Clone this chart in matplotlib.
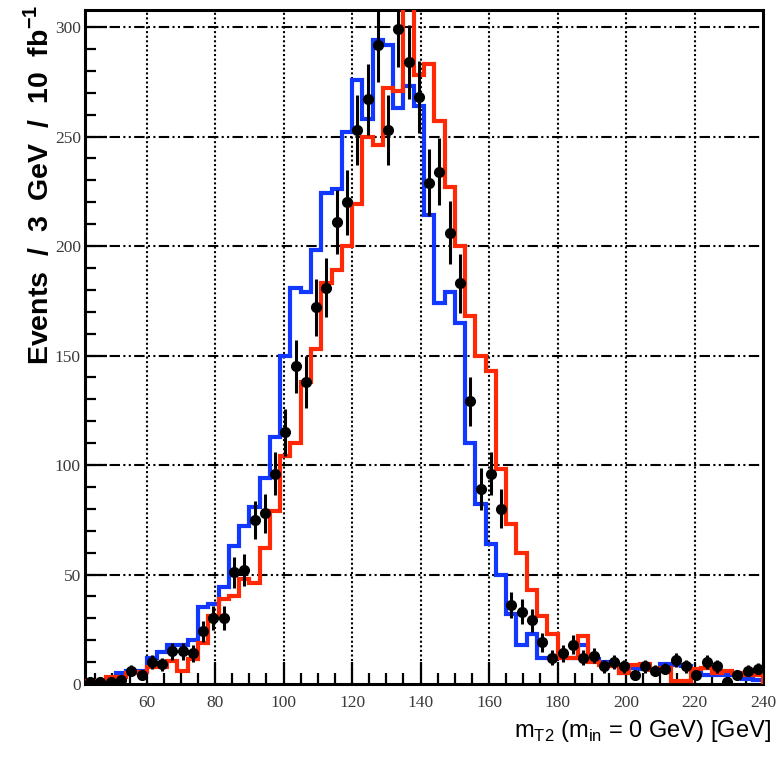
import numpy as np
import matplotlib
matplotlib.use("Agg")
import matplotlib.pyplot as plt
from matplotlib.ticker import MultipleLocator

plt.rcParams['font.family'] = ['Liberation Sans', 'DejaVu Sans']
plt.rcParams['mathtext.fontset'] = 'custom'
plt.rcParams['mathtext.rm'] = 'Liberation Sans'
plt.rcParams['mathtext.bf'] = 'Liberation Sans:bold'

# 3 GeV bins from 42 to 240 GeV
bin_edges = np.arange(42, 241, 3)

# pseudo-data (events per bin)
data_counts = [1, 1, 1, 2, 6, 4, 10, 9, 15, 15, 14, 24, 30, 30,
               51, 52, 75, 78, 96, 115, 145, 138, 172, 181, 211, 220,
               253, 267, 292, 253, 299, 284, 268, 229, 234, 206, 183, 129,
               89, 96, 80, 36, 33, 29, 19, 12, 14, 18, 12, 13, 8, 10,
               8, 4, 8, 6, 7, 11, 8, 4, 10, 8, 1, 4, 6, 7]

# template histogram, blue
blue_counts = [0.8, 1.5, 2, 5, 6, 6, 12, 14.5, 18, 18, 20, 35, 36.5, 44.5,
               63, 72, 81, 94, 113, 150, 181, 179, 198, 224, 226, 252,
               276, 258, 294, 292, 263, 273, 264, 214, 174, 179, 165, 110,
               82, 64, 50, 32, 18, 23, 12, 12, 12, 12, 18, 11.5, 10, 8,
               5, 7.5, 7, 7, 9, 8.5, 8, 5, 4, 4, 4, 4, 2.5, 2]

# template histogram, red
red_counts = [1.5, 1.5, 3, 3, 5, 5.5, 7.6, 7.6, 10.6, 5.8, 11.5, 18.5, 31, 39,
              40, 48, 46, 62, 79, 104, 110, 138, 153, 183, 189, 200,
              219, 250, 246, 272, 271, 325, 278, 283, 257, 227, 200, 168,
              150, 143, 98, 73, 60, 43, 31, 23, 12, 12, 22, 10, 8.5, 8,
              5, 8.5, 9, 6.5, 7.5, 1.5, 1.5, 7, 7.5, 5, 6, 5, 4, 4]

x_ticks = [60, 80, 100, 120, 140, 160, 180, 200, 220, 240]
y_ticks = [0, 50, 100, 150, 200, 250, 300]

W, H = 784, 758
fig = plt.figure(figsize=(W / 100, H / 100), dpi=100)
L, R, T, B = 85, 763, 9.5, 684
ax = fig.add_axes([L / W, 1 - B / H, (R - L) / W, (B - T) / H])
ax.set_xlim(42, 240)
ax.set_ylim(0, 308)

# grid: dash-dot-dot horizontals, dotted verticals
for yv in y_ticks[1:]:
    ax.axhline(yv, color='black', lw=1.5, ls=(0, (5, 1.6, 1, 1.6, 1, 1.6)), zorder=1)
for xv in x_ticks[:-1]:
    ax.axvline(xv, color='black', lw=1.5, ls=(0, (1, 1.2)), zorder=1)

ax.stairs(blue_counts, bin_edges, color='#1237ff', lw=3.0, zorder=3)
ax.stairs(red_counts, bin_edges, color='#ff2a05', lw=3.0, zorder=4)

centers = 0.5 * (bin_edges[:-1] + bin_edges[1:])
data = np.array(data_counts, dtype=float)
ax.errorbar(centers, data, yerr=np.sqrt(data), fmt='o', color='black',
            ms=7, elinewidth=2.2, capsize=0, zorder=5, clip_on=True)

for s in ax.spines.values():
    s.set_linewidth(2.2)

ax.set_xticks(x_ticks)
ax.set_yticks(y_ticks)
ax.xaxis.set_minor_locator(MultipleLocator(5))
ax.yaxis.set_minor_locator(MultipleLocator(10))
ax.tick_params(which='both', direction='in', top=False, right=False,
               width=1.6, labelcolor='#3a3a3a', labelsize=12.5)
ax.tick_params(which='major', length=16)
ax.tick_params(which='minor', length=8)
ax.tick_params(axis='x', pad=8)
ax.tick_params(axis='y', pad=3)
for lab in ax.get_xticklabels() + ax.get_yticklabels():
    lab.set_fontfamily('Liberation Serif')

fig.text(39 / W, 1 - 5 / H,
         r'Events  /  3  GeV  /  10  fb$^{\mathbf{-1}}$',
         rotation=90, ha='center', va='top', fontsize=20.5, fontweight='bold')
fig.text(771 / W, 1 - 737 / H,
         r'm$_{\mathregular{T2}}$ (m$_{\mathregular{in}}$ = 0 GeV) [GeV]',
         ha='right', va='baseline', fontsize=17)

fig.savefig('out.png', dpi=100)
